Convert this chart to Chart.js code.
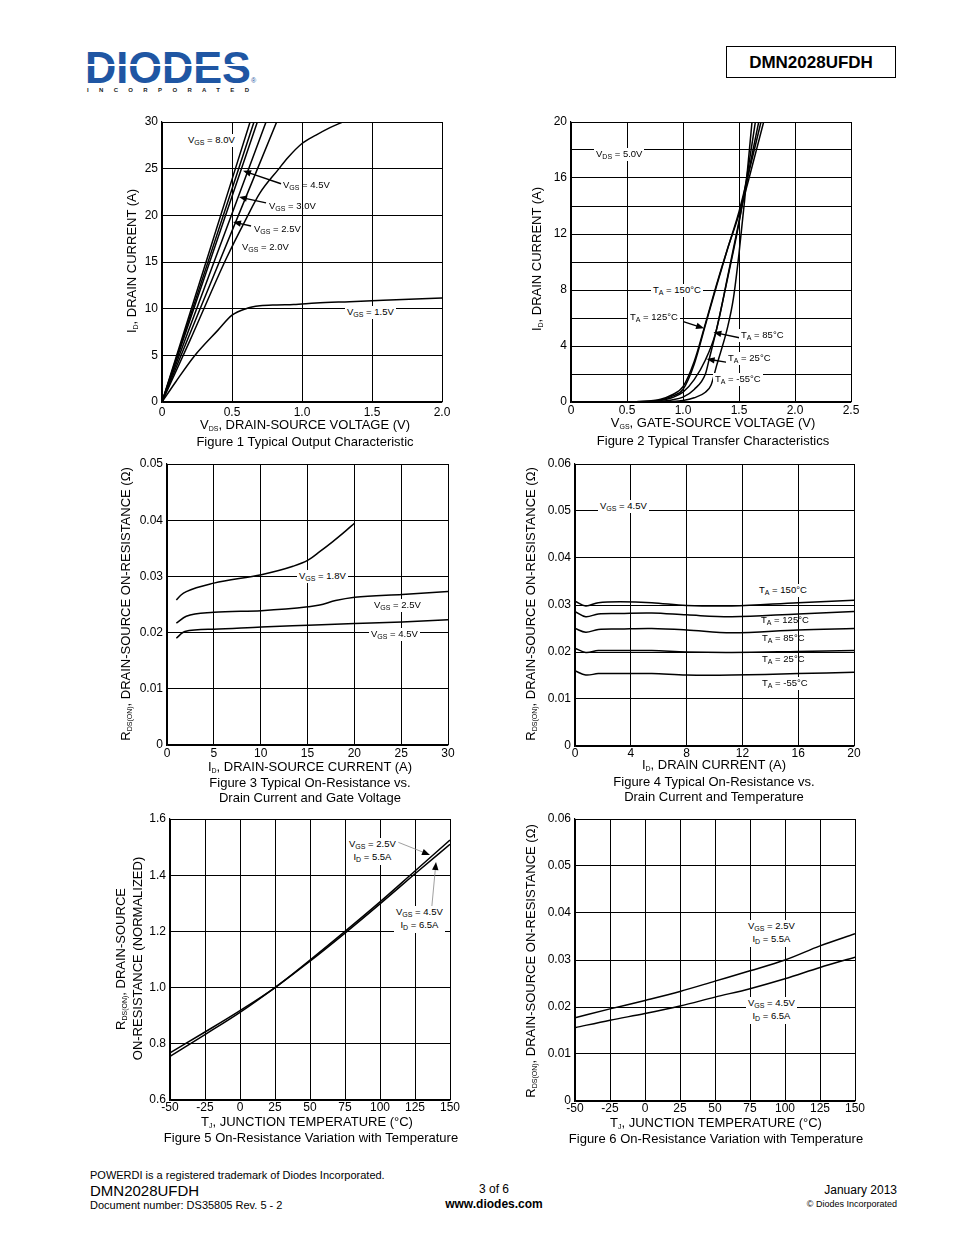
<!DOCTYPE html>
<html>
<head>
<meta charset="utf-8">
<script src="https://cdn.jsdelivr.net/npm/chart.js@4.4.1/dist/chart.umd.min.js"></script>
<style>
  html, body { margin:0; padding:0; background:#fff; }
  body { width:954px; height:1235px; position:relative; overflow:hidden; font-family:"Liberation Sans", Arial, sans-serif; color:#000; }
  canvas { position:absolute; }
  .t { position:absolute; white-space:nowrap; line-height:1; }
  .c { position:absolute; white-space:nowrap; text-align:center; width:500px; line-height:1; }
  .ann { position:absolute; white-space:nowrap; font-size:9.5px; line-height:1.35; background:#fff; padding:0 2px; }
  .ann.nb { background:transparent; }
  .s { font-size:7px; vertical-align:-2px; }
  .yt { position:absolute; white-space:nowrap; text-align:center; width:400px; font-size:13px; line-height:1; transform:rotate(-90deg); transform-origin:center center; }
</style>
</head>
<body>

<!-- Header -->
<svg style="position:absolute;left:0;top:0" width="300" height="100">
  <text x="85" y="83" textLength="166" lengthAdjust="spacingAndGlyphs" font-family="Liberation Sans" font-weight="bold" font-size="45" fill="#1f56a3">DIODES</text>
  <rect x="84" y="64" width="170" height="2" fill="#fff"/>
  <text x="251" y="83" font-family="Liberation Sans" font-size="7" fill="#1f56a3">®</text>
  <text x="87" y="92" textLength="162" lengthAdjust="spacing" font-family="Liberation Sans" font-weight="bold" font-size="6" fill="#222">INCORPORATED</text>
</svg>
<div style="position:absolute;left:726px;top:46px;width:168px;height:30px;border:1.5px solid #000;font-weight:bold;font-size:17px;text-align:center;line-height:31px;">DMN2028UFDH</div>

<canvas id="c1"></canvas>
<canvas id="c2"></canvas>
<canvas id="c3"></canvas>
<canvas id="c4"></canvas>
<canvas id="c5"></canvas>
<canvas id="c6"></canvas>

<!-- Chart 1 texts -->
<div class="yt" style="left:-68px;top:254px;">I<span class="s">D</span>, DRAIN CURRENT (A)</div>
<div class="c" style="left:55px;top:418px;font-size:13px;">V<span class="s">DS</span>, DRAIN-SOURCE VOLTAGE (V)</div>
<div class="c" style="left:55px;top:435px;font-size:13px;">Figure 1 Typical Output Characteristic</div>
<div class="ann" style="left:186px;top:134px;">V<span class="s">GS</span> = 8.0V</div>
<div class="ann nb" style="left:281px;top:179px;">V<span class="s">GS</span> = 4.5V</div>
<div class="ann nb" style="left:267px;top:200px;">V<span class="s">GS</span> = 3.0V</div>
<div class="ann nb" style="left:252px;top:223px;">V<span class="s">GS</span> = 2.5V</div>
<div class="ann nb" style="left:240px;top:241px;">V<span class="s">GS</span> = 2.0V</div>
<div class="ann" style="left:345px;top:306px;">V<span class="s">GS</span> = 1.5V</div>

<!-- Chart 2 texts -->
<div class="yt" style="left:337px;top:252px;">I<span class="s">D</span>, DRAIN CURRENT (A)</div>
<div class="c" style="left:463px;top:416px;font-size:13px;">V<span class="s">GS</span>, GATE-SOURCE VOLTAGE (V)</div>
<div class="c" style="left:463px;top:434px;font-size:13px;">Figure 2 Typical Transfer Characteristics</div>
<div class="ann" style="left:594px;top:148px;">V<span class="s">DS</span> = 5.0V</div>
<div class="ann" style="left:651px;top:284px;">T<span class="s">A</span> = 150°C</div>
<div class="ann" style="left:628px;top:311px;">T<span class="s">A</span> = 125°C</div>
<div class="ann" style="left:739px;top:329px;">T<span class="s">A</span> = 85°C</div>
<div class="ann" style="left:726px;top:352px;">T<span class="s">A</span> = 25°C</div>
<div class="ann" style="left:713px;top:373px;">T<span class="s">A</span> = -55°C</div>

<!-- Chart 3 texts -->
<div class="yt" style="left:-74px;top:597px;">R<span class="s">DS(ON)</span>, DRAIN-SOURCE ON-RESISTANCE (Ω)</div>
<div class="c" style="left:60px;top:760px;font-size:13px;">I<span class="s">D</span>, DRAIN-SOURCE CURRENT (A)</div>
<div class="c" style="left:60px;top:776px;font-size:13px;">Figure 3 Typical On-Resistance vs.</div>
<div class="c" style="left:60px;top:791px;font-size:13px;">Drain Current and Gate Voltage</div>
<div class="ann" style="left:297px;top:570px;">V<span class="s">GS</span> = 1.8V</div>
<div class="ann" style="left:372px;top:599px;">V<span class="s">GS</span> = 2.5V</div>
<div class="ann" style="left:369px;top:628px;">V<span class="s">GS</span> = 4.5V</div>

<!-- Chart 4 texts -->
<div class="yt" style="left:331px;top:597px;">R<span class="s">DS(ON)</span>, DRAIN-SOURCE ON-RESISTANCE (Ω)</div>
<div class="c" style="left:464px;top:758px;font-size:13px;">I<span class="s">D</span>, DRAIN CURRENT (A)</div>
<div class="c" style="left:464px;top:775px;font-size:13px;">Figure 4 Typical On-Resistance vs.</div>
<div class="c" style="left:464px;top:790px;font-size:13px;">Drain Current and Temperature</div>
<div class="ann" style="left:598px;top:500px;">V<span class="s">GS</span> = 4.5V</div>
<div class="ann" style="left:757px;top:584px;">T<span class="s">A</span> = 150°C</div>
<div class="ann nb" style="left:759px;top:614px;">T<span class="s">A</span> = 125°C</div>
<div class="ann nb" style="left:760px;top:632px;">T<span class="s">A</span> = 85°C</div>
<div class="ann nb" style="left:760px;top:653px;">T<span class="s">A</span> = 25°C</div>
<div class="ann" style="left:760px;top:677px;">T<span class="s">A</span> = -55°C</div>

<!-- Chart 5 texts -->
<div class="yt" style="left:-79px;top:952px;">R<span class="s">DS(ON)</span>, DRAIN-SOURCE</div>
<div class="yt" style="left:-63px;top:952px;">ON-RESISTANCE (NORMALIZED)</div>
<div class="c" style="left:57px;top:1115px;font-size:13px;">T<span class="s">J</span>, JUNCTION TEMPERATURE (°C)</div>
<div class="c" style="left:61px;top:1131px;font-size:13px;">Figure 5 On-Resistance Variation with Temperature</div>
<div class="ann" style="left:347px;top:838px;text-align:center;">V<span class="s">GS</span> = 2.5V<br>I<span class="s">D</span> = 5.5A</div>
<div class="ann" style="left:394px;top:906px;text-align:center;">V<span class="s">GS</span> = 4.5V<br>I<span class="s">D</span> = 6.5A</div>

<!-- Chart 6 texts -->
<div class="yt" style="left:331px;top:954px;">R<span class="s">DS(ON)</span>, DRAIN-SOURCE ON-RESISTANCE (Ω)</div>
<div class="c" style="left:466px;top:1116px;font-size:13px;">T<span class="s">J</span>, JUNCTION TEMPERATURE (°C)</div>
<div class="c" style="left:466px;top:1132px;font-size:13px;">Figure 6 On-Resistance Variation with Temperature</div>
<div class="ann" style="left:746px;top:920px;text-align:center;">V<span class="s">GS</span> = 2.5V<br>I<span class="s">D</span> = 5.5A</div>
<div class="ann" style="left:746px;top:997px;text-align:center;">V<span class="s">GS</span> = 4.5V<br>I<span class="s">D</span> = 6.5A</div>

<!-- Footer -->
<div class="t" style="left:90px;top:1170px;font-size:11px;">POWERDI is a registered trademark of Diodes Incorporated.</div>
<div class="t" style="left:90px;top:1183px;font-size:15px;">DMN2028UFDH</div>
<div class="t" style="left:90px;top:1200px;font-size:11px;">Document number: DS35805 Rev. 5 - 2</div>
<div class="c" style="left:244px;top:1183px;font-size:12px;">3 of 6</div>
<div class="c" style="left:244px;top:1198px;font-size:12px;font-weight:bold;">www.diodes.com</div>
<div class="t" style="right:57px;top:1184px;font-size:12px;">January 2013</div>
<div class="t" style="right:57px;top:1200px;font-size:9px;">© Diodes Incorporated</div>

<script>
// ---------------- DATA ----------------
// Figure 1: ID vs VDS
const fig1XTicks = ['0','0.5','1.0','1.5','2.0'];
const fig1YTicks = ['0','5','10','15','20','25','30'];
const fig1_vgs8a_vds = [0, 0.30, 0.629];
const fig1_vgs8a_id  = [0, 14.3, 30];
const fig1_vgs8b_vds = [0, 0.30, 0.657];
const fig1_vgs8b_id  = [0, 13.7, 30];
const fig1_vgs45_vds = [0, 0.30, 0.681];
const fig1_vgs45_id  = [0, 13.2, 30];
const fig1_vgs30_vds = [0, 0.30, 0.743];
const fig1_vgs30_id  = [0, 12.1, 30];
const fig1_vgs25_vds = [0, 0.30, 0.819];
const fig1_vgs25_id  = [0, 11.0, 30];
const fig1_vgs20_vds = [0, 0.20, 0.46, 0.60, 0.70, 0.83, 0.90, 1.00, 1.10, 1.20, 1.29];
const fig1_vgs20_id  = [0, 6.6, 15.4, 19.6, 22.4, 24.9, 26.2, 27.7, 28.6, 29.4, 30];
const fig1_vgs15_vds = [0, 0.10, 0.233, 0.40, 0.50, 0.60, 0.70, 0.82, 0.94, 1.10, 1.34, 1.58, 2.0];
const fig1_vgs15_id  = [0, 2.2, 4.96, 7.7, 9.3, 10.0, 10.3, 10.4, 10.45, 10.6, 10.75, 10.9, 11.15];
const fig1Arrows = [
  {from:[0.850, 23.38], to:[0.579, 24.77]},
  {from:[0.743, 21.33], to:[0.550, 21.97]},
  {from:[0.636, 18.86], to:[0.507, 19.29]}
];

// Figure 2: ID vs VGS
const fig2XTicks = ['0','0.5','1.0','1.5','2.0','2.5'];
const fig2YTicks = ['0','','4','','8','','12','','16','','20'];
const fig2_t150_vgs = [0.57, 0.80, 0.90, 1.00, 1.10, 1.20, 1.30, 1.40, 1.50, 1.60, 1.72];
const fig2_t150_id  = [0, 0.2, 0.5, 1.1, 2.9, 5.6, 8.4, 11.0, 13.4, 16.3, 20];
const fig2_t125_vgs = [0.58, 0.80, 0.90, 1.00, 1.10, 1.20, 1.30, 1.40, 1.50, 1.60, 1.696];
const fig2_t125_id  = [0, 0.15, 0.4, 0.9, 2.7, 5.5, 8.3, 11.0, 13.6, 16.8, 20];
const fig2_t85_vgs  = [0.60, 0.80, 0.90, 1.00, 1.10, 1.20, 1.29, 1.40, 1.50, 1.60, 1.676];
const fig2_t85_id   = [0, 0.1, 0.3, 0.7, 1.6, 3.0, 4.9, 9.0, 12.9, 17.0, 20];
const fig2_t25_vgs  = [0.62, 0.80, 0.90, 1.00, 1.10, 1.20, 1.235, 1.30, 1.40, 1.50, 1.60, 1.646];
const fig2_t25_id   = [0, 0.05, 0.15, 0.35, 0.9, 2.0, 3.1, 5.2, 8.9, 12.8, 17.6, 20];
const fig2_tm55_vgs = [0.70, 0.90, 1.00, 1.10, 1.20, 1.25, 1.30, 1.40, 1.45, 1.50, 1.55, 1.616];
const fig2_tm55_id  = [0, 0.03, 0.1, 0.3, 0.7, 1.2, 2.6, 5.4, 7.4, 10.6, 14.4, 20];
const fig2Arrows = [
  {from:[1.003, 5.74], to:[1.188, 5.26]},
  {from:[1.503, 4.59], to:[1.271, 4.98]},
  {from:[1.396, 2.83], to:[1.211, 3.07]}
];

// Figure 3: RDS(ON) vs ID, VGS
const fig3XTicks = ['0','5','10','15','20','25','30'];
const fig3YTicks = ['0','0.01','0.02','0.03','0.04','0.05'];
const fig3_vgs18_id = [1.0, 1.5, 2.06, 5, 10.07, 13.45, 15.05, 16.3, 17.7, 18.8, 20.04];
const fig3_vgs18_r  = [0.0258, 0.0267, 0.0273, 0.0288, 0.0303, 0.0318, 0.0329, 0.0344, 0.0362, 0.0377, 0.0395];
const fig3_vgs25_id = [1.0, 2.06, 5, 10.07, 15.05, 16.3, 18, 20.04, 25.1, 30];
const fig3_vgs25_r  = [0.0217, 0.0229, 0.0236, 0.0239, 0.0246, 0.0249, 0.0257, 0.0263, 0.0268, 0.0273];
const fig3_vgs45_id = [1.0, 1.9, 5, 10.07, 15.05, 20.04, 25.1, 30];
const fig3_vgs45_r  = [0.0190, 0.0202, 0.0206, 0.0210, 0.0213, 0.0216, 0.0219, 0.0223];

// Figure 4: RDS(ON) vs ID, temperature
const fig4XTicks = ['0','4','8','12','16','20'];
const fig4YTicks = ['0','0.01','0.02','0.03','0.04','0.05','0.06'];
const fig4_id = [0, 0.77, 1.67, 3.23, 5.5, 8, 11.24, 16, 20];
const fig4_t150_r = [0.0308, 0.0298, 0.0305, 0.0307, 0.0305, 0.0299, 0.0298, 0.0305, 0.0310];
const fig4_t125_r = [0.0286, 0.0275, 0.0281, 0.0282, 0.0283, 0.0279, 0.0275, 0.0281, 0.0286];
const fig4_t85_r  = [0.0250, 0.0242, 0.0248, 0.0249, 0.0250, 0.0247, 0.0241, 0.0247, 0.0250];
const fig4_t25_r  = [0.0208, 0.0199, 0.0203, 0.0203, 0.0203, 0.0200, 0.0199, 0.0201, 0.0203];
const fig4_tm55_r = [0.0160, 0.0151, 0.0154, 0.0154, 0.0154, 0.0151, 0.0151, 0.0154, 0.0157];

// Figure 5: normalized RDS(ON) vs TJ
const fig5XTicks = ['-50','-25','0','25','50','75','100','125','150'];
const fig5YTicks = ['0.6','0.8','1.0','1.2','1.4','1.6'];
const fig5_tj = [-50, -25, 0, 25, 50, 75, 100, 125, 150];
const fig5_vgs25 = [0.768, 0.842, 0.918, 1.000, 1.098, 1.200, 1.305, 1.415, 1.525];
const fig5_vgs45 = [0.755, 0.833, 0.912, 1.000, 1.094, 1.194, 1.298, 1.405, 1.510];
const fig5Arrows = [
  {from:[113.1, 1.517], to:[135.7, 1.472], thin:true},
  {from:[136.9, 1.282], to:[140.0, 1.447], thin:true}
];

// Figure 6: RDS(ON) vs TJ
const fig6XTicks = ['-50','-25','0','25','50','75','100','125','150'];
const fig6YTicks = ['0','0.01','0.02','0.03','0.04','0.05','0.06'];
const fig6_tj = [-50, -25, 0, 25, 50, 75, 100, 125, 150];
const fig6_vgs25 = [0.0177, 0.0196, 0.0214, 0.0233, 0.0255, 0.0277, 0.0300, 0.0330, 0.0356];
const fig6_vgs45 = [0.0156, 0.0172, 0.0186, 0.0202, 0.0221, 0.0239, 0.0260, 0.0284, 0.0306];

// ---------------- RENDERING ----------------
const FONT = 'Liberation Sans';
const PADL = 50, PADT = 12, PADR = 20, PADB = 24;

const arrowPlugin = {
  id: 'arrows',
  afterDatasetsDraw(chart, args, opts) {
    const list = opts.list || [];
    const ctx = chart.ctx, sx = chart.scales.x, sy = chart.scales.y;
    list.forEach(a => {
      const x1 = sx.getPixelForValue(a.from[0]), y1 = sy.getPixelForValue(a.from[1]);
      const x2 = sx.getPixelForValue(a.to[0]),   y2 = sy.getPixelForValue(a.to[1]);
      const ang = Math.atan2(y2 - y1, x2 - x1);
      const hl = 8, hw = 3.2;
      ctx.save();
      ctx.strokeStyle = a.thin ? '#888' : '#000';
      ctx.lineWidth = a.thin ? 0.8 : 1.4;
      ctx.beginPath();
      ctx.moveTo(x1, y1);
      ctx.lineTo(x2 - Math.cos(ang) * hl * 0.8, y2 - Math.sin(ang) * hl * 0.8);
      ctx.stroke();
      ctx.fillStyle = '#000';
      ctx.beginPath();
      ctx.moveTo(x2, y2);
      ctx.lineTo(x2 - hl * Math.cos(ang) + hw * Math.sin(ang), y2 - hl * Math.sin(ang) - hw * Math.cos(ang));
      ctx.lineTo(x2 - hl * Math.cos(ang) - hw * Math.sin(ang), y2 - hl * Math.sin(ang) + hw * Math.cos(ang));
      ctx.closePath();
      ctx.fill();
      ctx.restore();
    });
  }
};

function pts(xs, ys) { return xs.map((x, i) => ({x: x, y: ys[i]})); }
function ds(xs, ys, extra) {
  return Object.assign({
    data: pts(xs, ys), borderColor: '#000', borderWidth: 1.5,
    pointRadius: 0, fill: false, tension: 0, cubicInterpolationMode: 'monotone'
  }, extra || {});
}

function make(id, box, sc, datasets, arrows) {
  const cv = document.getElementById(id);
  const W = box.w + PADL + PADR, H = box.h + PADT + PADB;
  cv.width = W; cv.height = H;
  cv.style.left = (box.l - PADL) + 'px';
  cv.style.top = (box.t - PADT) + 'px';
  cv.style.width = W + 'px'; cv.style.height = H + 'px';
  const axisCommon = {
    type: 'linear',
    grid: { color: '#000', lineWidth: 1, drawTicks: false },
    border: { color: '#000', width: 1.2 },
  };
  new Chart(cv, {
    type: 'line',
    data: { datasets: datasets },
    plugins: [arrowPlugin],
    options: {
      responsive: false, animation: false, devicePixelRatio: 1,
      layout: { padding: { left: 0, top: PADT, right: PADR, bottom: 0 } },
      plugins: { legend: { display: false }, tooltip: { enabled: false }, arrows: { list: arrows || [] } },
      scales: {
        x: Object.assign({}, axisCommon, {
          min: sc.xmin, max: sc.xmax,
          ticks: { stepSize: sc.xstep, color: '#000', font: { family: FONT, size: 12 }, padding: sc.xpad, maxRotation: 0, autoSkip: false,
                   callback: (v, i) => sc.xl[i] },
          afterFit: s => { s.height = PADB; }
        }),
        y: Object.assign({}, axisCommon, {
          min: sc.ymin, max: sc.ymax,
          ticks: { stepSize: sc.ystep, color: '#000', font: { family: FONT, size: 12 }, padding: 4, autoSkip: false,
                   callback: (v, i) => sc.yl[i] },
          afterFit: s => { s.width = PADL; }
        })
      }
    }
  });
}

// Figure 1
make('c1', {l:162, t:122, w:280, h:280},
  {xmin:0, xmax:2.0, xstep:0.5, xl:fig1XTicks, xpad:3, ymin:0, ymax:30, ystep:5, yl:fig1YTicks},
  [ds(fig1_vgs8a_vds, fig1_vgs8a_id), ds(fig1_vgs8b_vds, fig1_vgs8b_id), ds(fig1_vgs45_vds, fig1_vgs45_id),
   ds(fig1_vgs30_vds, fig1_vgs30_id), ds(fig1_vgs25_vds, fig1_vgs25_id), ds(fig1_vgs20_vds, fig1_vgs20_id),
   ds(fig1_vgs15_vds, fig1_vgs15_id)],
  fig1Arrows);

// Figure 2
make('c2', {l:571, t:122, w:280, h:280},
  {xmin:0, xmax:2.5, xstep:0.5, xl:fig2XTicks, xpad:1, ymin:0, ymax:20, ystep:2, yl:fig2YTicks},
  [ds(fig2_t150_vgs, fig2_t150_id), ds(fig2_t125_vgs, fig2_t125_id), ds(fig2_t85_vgs, fig2_t85_id),
   ds(fig2_t25_vgs, fig2_t25_id), ds(fig2_tm55_vgs, fig2_tm55_id)],
  fig2Arrows);

// Figure 3
make('c3', {l:167, t:464, w:281, h:281},
  {xmin:0, xmax:30, xstep:5, xl:fig3XTicks, xpad:1, ymin:0, ymax:0.05, ystep:0.01, yl:fig3YTicks},
  [ds(fig3_vgs18_id, fig3_vgs18_r), ds(fig3_vgs25_id, fig3_vgs25_r), ds(fig3_vgs45_id, fig3_vgs45_r)]);

// Figure 4
make('c4', {l:575, t:464, w:279, h:282},
  {xmin:0, xmax:20, xstep:4, xl:fig4XTicks, xpad:0, ymin:0, ymax:0.06, ystep:0.01, yl:fig4YTicks},
  [ds(fig4_id, fig4_t150_r, {cubicInterpolationMode:'default', tension:0.35}),
   ds(fig4_id, fig4_t125_r, {cubicInterpolationMode:'default', tension:0.35}),
   ds(fig4_id, fig4_t85_r, {cubicInterpolationMode:'default', tension:0.35}),
   ds(fig4_id, fig4_t25_r, {cubicInterpolationMode:'default', tension:0.35}),
   ds(fig4_id, fig4_tm55_r, {cubicInterpolationMode:'default', tension:0.35})]);

// Figure 5
make('c5', {l:170, t:819, w:280, h:281},
  {xmin:-50, xmax:150, xstep:25, xl:fig5XTicks, xpad:0, ymin:0.6, ymax:1.6, ystep:0.2, yl:fig5YTicks},
  [ds(fig5_tj, fig5_vgs25), ds(fig5_tj, fig5_vgs45)],
  fig5Arrows);

// Figure 6
make('c6', {l:575, t:819, w:280, h:282},
  {xmin:-50, xmax:150, xstep:25, xl:fig6XTicks, xpad:0, ymin:0, ymax:0.06, ystep:0.01, yl:fig6YTicks},
  [ds(fig6_tj, fig6_vgs25), ds(fig6_tj, fig6_vgs45)]);
</script>
</body>
</html>
